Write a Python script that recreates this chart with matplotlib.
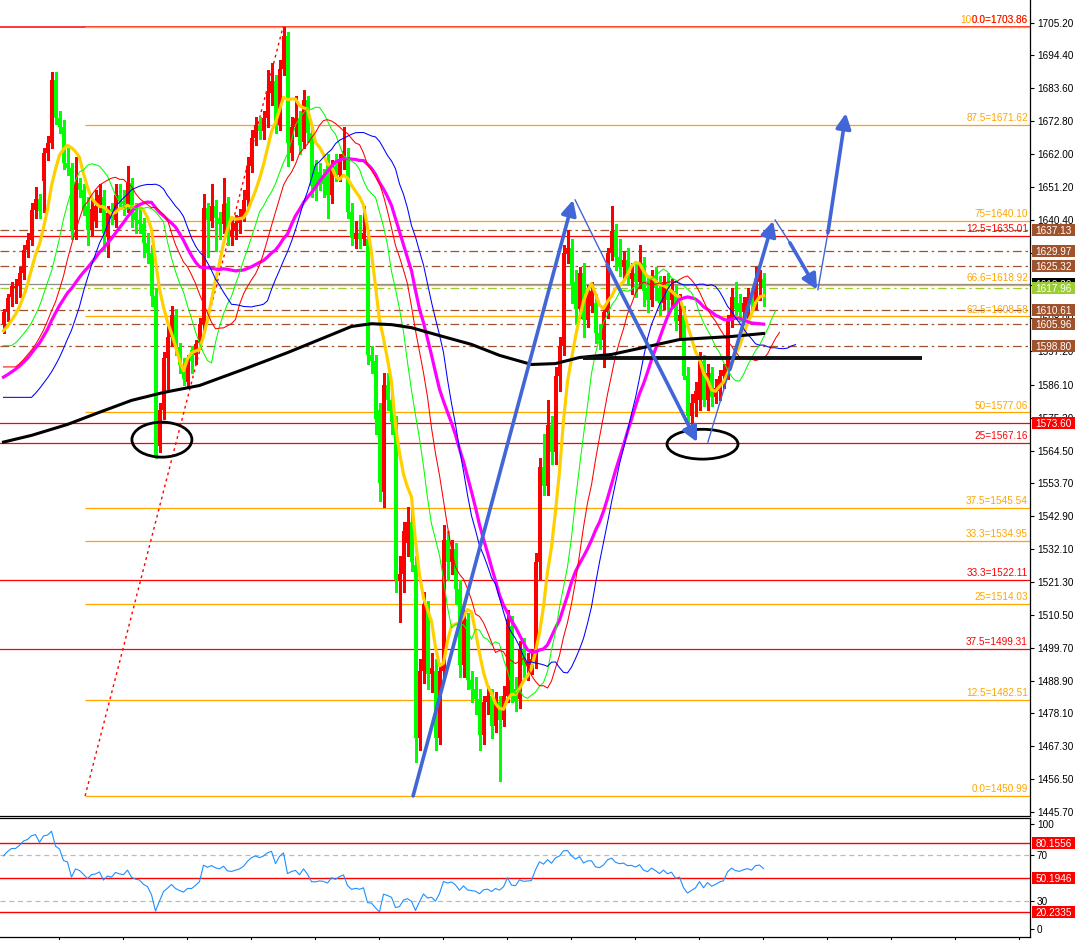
import numpy as np
import pandas as pd
import matplotlib
matplotlib.use("Agg")
import matplotlib.pyplot as plt
from matplotlib.patches import Rectangle, Ellipse, FancyArrowPatch
from matplotlib.transforms import blended_transform_factory as btf

plt.rcParams['font.family'] = ['Liberation Sans', 'DejaVu Sans']

# ---------------- OHLC data ----------------
O = [1606, 1610, 1615, 1617.8, 1618.7, 1623, 1630.5, 1633.8, 1643.6, 1647.2,
     1653, 1662.3, 1665.6, 1686.2, 1673.7, 1671, 1659, 1657.4, 1637, 1652.4,
     1650, 1645, 1637, 1640, 1645, 1648, 1635, 1644, 1640.3, 1648.5,
     1646.5, 1645.5, 1652.4, 1643, 1640.3, 1639, 1632.8, 1629.5, 1615.4, 1566,
     1578, 1595, 1601.7, 1609.2, 1598.4, 1592.5, 1587, 1597.7, 1595.8, 1600,
     1606, 1644.3, 1640, 1645, 1641, 1639, 1646, 1635, 1636.7, 1639.3,
     1641, 1647, 1658, 1667.2, 1671.5, 1669.5, 1673.7, 1682, 1686, 1671.5,
     1690, 1700.7, 1662.3, 1671, 1673.7, 1666, 1679.6, 1668.8, 1658, 1656,
     1655, 1660, 1648.5, 1658, 1655, 1660, 1661, 1643, 1634, 1636,
     1634, 1634, 1596, 1594, 1578, 1551, 1586, 1581, 1574, 1522,
     1524, 1534, 1541, 1527, 1470, 1492, 1512, 1491, 1492, 1470,
     1492, 1535, 1528, 1532, 1519, 1494, 1509, 1489, 1486, 1483,
     1471, 1482, 1484, 1474, 1482, 1476, 1484, 1507, 1486, 1483,
     1499, 1494, 1494, 1495, 1528, 1559, 1553, 1573, 1564, 1589,
     1599, 1629, 1631, 1620, 1611, 1623, 1607.5, 1612, 1613, 1603,
     1601, 1610, 1629.5, 1636.7, 1628, 1625, 1627, 1621, 1623, 1620,
     1626, 1618, 1614, 1622, 1618, 1613, 1620, 1614, 1617, 1607,
     1609, 1589, 1576, 1580, 1581, 1594, 1581, 1590, 1582, 1584,
     1589, 1590, 1607, 1615, 1613, 1610, 1611, 1615, 1613, 1620,
     1621]
H = [1611, 1616, 1620, 1621, 1625, 1632, 1636, 1646, 1651, 1649,
     1664, 1668, 1689, 1689, 1676, 1673, 1664, 1659, 1661, 1654,
     1652, 1648, 1647, 1650, 1652, 1650, 1645, 1646, 1652, 1652,
     1650, 1658, 1654, 1646, 1644, 1641, 1636, 1632, 1618, 1580,
     1597, 1605.6, 1612, 1611, 1600, 1595, 1596, 1599, 1601, 1608,
     1649, 1646, 1652, 1647, 1643, 1654, 1648, 1640, 1642, 1644,
     1650, 1661, 1670, 1674, 1674, 1676, 1689.5, 1692, 1688, 1693,
     1703.86, 1702, 1674, 1681, 1676, 1683, 1681, 1671, 1660, 1659,
     1657, 1662, 1660, 1662, 1662, 1670.8, 1664, 1646, 1640, 1642,
     1645, 1637, 1599, 1596, 1580, 1590, 1590, 1584, 1576, 1530,
     1541, 1546, 1545, 1530, 1496, 1518, 1515, 1498, 1496, 1494,
     1540, 1538, 1535, 1534, 1522, 1512, 1511, 1492, 1490, 1486,
     1484, 1487, 1486, 1485, 1484, 1487, 1512, 1510, 1490, 1502,
     1503, 1498, 1499, 1531, 1562, 1570, 1581, 1576, 1592, 1602,
     1632, 1637, 1634, 1624, 1625, 1626, 1619, 1620, 1616, 1606,
     1612, 1631, 1645, 1639, 1634, 1630, 1631, 1626, 1626, 1632,
     1628, 1622, 1624, 1625, 1622, 1622, 1623, 1621, 1619, 1616,
     1612, 1592, 1583, 1587, 1597, 1596, 1593, 1592, 1588, 1591,
     1593, 1609, 1618, 1620, 1616, 1615, 1618, 1617, 1625, 1624,
     1623]
L = [1603, 1607, 1612, 1613, 1615, 1621, 1628, 1632, 1641, 1641,
     1643, 1660, 1664, 1672, 1669, 1657, 1655, 1634, 1634, 1648,
     1642, 1632, 1635, 1638, 1643, 1630, 1628, 1639, 1638, 1644,
     1642, 1643, 1638, 1636, 1636, 1628, 1626, 1612, 1562, 1564,
     1575, 1584.6, 1599, 1596, 1590, 1586, 1585, 1590, 1593, 1598,
     1604, 1628, 1638, 1630, 1634, 1636, 1632, 1632, 1634, 1636,
     1640, 1645, 1656, 1665, 1667, 1667, 1671, 1678, 1669, 1670,
     1688, 1658, 1660, 1668, 1662, 1664, 1666, 1648, 1647, 1650,
     1648, 1641, 1646, 1653, 1653, 1657, 1641, 1632, 1631, 1631,
     1632, 1593, 1590, 1570, 1548, 1546, 1578, 1570, 1518, 1508,
     1518, 1530, 1525, 1462, 1466, 1488, 1486, 1485, 1466, 1468,
     1490, 1522, 1524, 1514, 1490, 1490, 1486, 1482, 1478, 1466,
     1468, 1478, 1470, 1472, 1456, 1474, 1482, 1482, 1479, 1480,
     1490, 1489, 1491, 1493, 1522, 1550, 1550, 1560, 1560, 1584,
     1596, 1626, 1613, 1606, 1608, 1602, 1605, 1610, 1600, 1598,
     1592, 1608, 1627, 1624, 1622, 1621, 1619, 1616, 1615, 1618,
     1612, 1610, 1612, 1614, 1609, 1611, 1610, 1612, 1604, 1601,
     1588, 1572, 1573, 1576, 1578, 1579, 1578, 1579, 1580, 1581,
     1585, 1588, 1605, 1609, 1607, 1607, 1608, 1611, 1611, 1614,
     1612]
C = [1610, 1614.8, 1618.7, 1618.7, 1623, 1630.5, 1633.8, 1643.6, 1647.2, 1643.3,
     1662.3, 1665.6, 1686.2, 1673.7, 1671, 1659, 1657.4, 1637, 1652.4, 1650,
     1644, 1637, 1644, 1645, 1648.5, 1636, 1642.6, 1641, 1648.5, 1646.5,
     1645.5, 1652.4, 1643, 1640.3, 1639, 1632.8, 1629.5, 1615.4, 1563, 1578,
     1595, 1601.7, 1609.2, 1598.4, 1592.5, 1588, 1594.5, 1594.1, 1599.4, 1606,
     1644.3, 1640.3, 1645, 1641, 1639, 1645.5, 1637.7, 1636.7, 1639.3, 1641.7,
     1647, 1658, 1667.2, 1671.5, 1669.5, 1673.7, 1682, 1686, 1671.5, 1690,
     1700.7, 1665.6, 1671, 1673.7, 1665, 1679.6, 1668.8, 1651.5, 1651, 1653,
     1652, 1648.5, 1658, 1655, 1660, 1663, 1643, 1634.4, 1636, 1634,
     1636, 1596, 1594, 1575, 1554, 1586, 1581, 1574, 1522, 1524,
     1538, 1541, 1528, 1470, 1492, 1514, 1491, 1493, 1470, 1492,
     1535, 1528, 1532, 1519, 1494, 1509, 1489, 1486, 1483, 1471,
     1482, 1484, 1474, 1482, 1476, 1484, 1509, 1484, 1482, 1499,
     1494, 1495, 1496, 1528, 1559, 1553, 1573, 1564, 1589, 1599,
     1629.5, 1631, 1619, 1611, 1623, 1607.5, 1617, 1617, 1603, 1601,
     1610, 1629.5, 1636.7, 1628, 1625, 1627, 1622, 1623, 1620, 1626,
     1617, 1614, 1622, 1618, 1613, 1620, 1614, 1617, 1607, 1609,
     1589, 1576, 1580, 1584, 1594, 1581, 1590, 1582, 1585, 1589,
     1591, 1607, 1615, 1611, 1610, 1613, 1615, 1613, 1621, 1622,
     1618]

# moving averages: (period, shift, value at left edge, colour, width)
ma_specs = [
    (8, 0, 1603, '#FFD000', 2.3),
    (12, 3, 1599, '#00FF00', 0.75),
    (17, 4, 1592, '#FF0000', 0.75),
    (34, 0, 1588, '#FF00FF', 2.3),
    (21, 8, 1582, '#0000FF', 0.75),
]
# long moving average (black)
long_ma_bar = [0, 7, 16, 24, 32, 40, 49, 60, 71, 82, 87, 92, 97, 102, 109, 117,
               124, 132, 138, 144, 152, 159, 169, 182, 190]
long_ma_val = [1567.3, 1569.5, 1573.1, 1577.1, 1581.0, 1583.6, 1585.9, 1591.2, 1596.7,
               1602.6, 1605.3, 1606.2, 1605.9, 1604.9, 1602.3, 1599.4, 1595.8, 1592.8,
               1593.1, 1595.1, 1596.1, 1598.1, 1601.0, 1602.0, 1603.0]

# Fibonacci levels
fib_orange_levels = [1703.86, 1671.62, 1640.10, 1618.92, 1608.58, 1577.06,
                     1545.54, 1534.95, 1514.03, 1482.51, 1450.99]
fib_orange_labels = ['100.0=1703.86', '87.5=1671.62', '75=1640.10', '66.6=1618.92',
                     '62.5=1608.58', '50=1577.06', '37.5=1545.54', '33.3=1534.95',
                     '25=1514.03', '12.5=1482.51', '0.0=1450.99']
fib_anchor_bars = (20.4, 69.9)
fib_red_levels = [1703.86, 1635.01, 1567.16, 1522.11, 1499.31]
fib_red_labels = ['0.0=1703.86', '12.5=1635.01', '25=1567.16', '33.3=1522.11', '37.5=1499.31']
brown_levels = [1637.13, 1629.97, 1625.32, 1610.61, 1605.96, 1598.80]
brown_labels = ['1637.13', '1629.97', '1625.32', '1610.61', '1605.96', '1598.80']
support_level = 1573.60
bid_level = 1619.30
ask_level = 1617.96
hline_black = (144.9, 229.6, 1594.8)

price_ticks = [1705.20, 1694.40, 1683.60, 1672.80, 1662.00, 1651.20, 1640.40, 1629.60,
               1618.80, 1608.00, 1597.20, 1586.10, 1575.30, 1564.50, 1553.70, 1542.90,
               1532.10, 1521.30, 1510.50, 1499.70, 1488.90, 1478.10, 1467.30, 1456.50,
               1445.70]

# analyst drawings: (start, start of thick part, end) in (bar, price)
arrows = [
    ((102.4, 1451.0), (102.4, 1451.0), (142.4, 1646.9)),
    ((142.9, 1646.9), (150.9, 1625.6), (173.4, 1567.3)),
    ((176.1, 1567.3), (181.6, 1591.2), (192.4, 1640.0)),
    ((192.9, 1640.3), (196.6, 1632.8), (203.4, 1617.4)),
    ((203.6, 1617.4), (206.1, 1636.1), (210.6, 1675.4)),
]
ellipses = [((39.6, 1568.1), 15.0, 11.5), ((174.75, 1566.6), 17.75, 9.8)]

# RSI
rsi_period = 14
rsi_seed = (2.0, 0.9)
rsi_levels = [80.1556, 50.1946, 20.2335]

# ---------------- figure ----------------
o = np.array(O, float); c = np.array(C, float)
h = np.maximum(np.array(H, float), np.maximum(o, c))
l = np.minimum(np.array(L, float), np.minimum(o, c))
n = len(c)
x = np.arange(n)

fig = plt.figure(figsize=(10.78, 9.40), dpi=100)
fig.patch.set_facecolor('white')
ax = fig.add_axes([0, 124 / 940, 1030 / 1078, 816 / 940])
ax2 = fig.add_axes([0, 3 / 940, 1030 / 1078, 119 / 940])
XL = (-0.875, 256.625)
ax.set_xlim(*XL); ax2.set_xlim(*XL)
ax.set_ylim(1444.4, 1712.6)
ax2.set_ylim(-0.94, 101.6)
PXU = 816 / (1712.6 - 1444.4)   # pixels per price unit

ORANGE = '#FFA500'; RED = '#FF0000'; BROWN = '#A0522D'; BLUE = '#4166D8'
tr = btf(ax.transAxes, ax.transData)
tr2 = btf(ax2.transAxes, ax2.transData)
FS = 7.2

# horizontal lines
for v in fib_red_levels:
    ax.axhline(v, color=RED, lw=1.1 if v == fib_red_levels[0] else 0.9, zorder=1)
for v in fib_orange_levels:
    ax.hlines(v, fib_anchor_bars[0], XL[1], color=ORANGE, lw=0.9, zorder=1.1)
for v in brown_levels:
    ax.axhline(v, color=BROWN, lw=0.9, ls=(0, (7, 3, 2, 3)), zorder=1)
ax.axhline(support_level, color=RED, lw=0.9, zorder=1)
ax.axhline(bid_level, color='#8C8C8C', lw=0.9, zorder=1)
ax.axhline(ask_level, color='#9ACD32', lw=0.9, ls=(0, (7, 3, 2, 3)), zorder=1)
ax.plot(fib_anchor_bars, [fib_orange_levels[-1], fib_orange_levels[0]], color=RED,
        lw=1.0, ls=(0, (2, 2.5)), zorder=1.2)

# fib labels
for v, t in zip(fib_orange_levels, fib_orange_labels):
    ax.text(0.998, v + 0.6, t, transform=tr, color=ORANGE, fontsize=FS, ha='right', va='bottom', zorder=6)
for v, t in zip(fib_red_levels, fib_red_labels):
    ax.text(0.998, v + 0.6, t, transform=tr, color=RED, fontsize=FS, ha='right', va='bottom', zorder=6)

# candles
cols = np.where(c >= o, '#FF0000', '#00FF00')
ax.vlines(x, l, h, colors=cols, lw=0.8, zorder=3, antialiased=False)
bot = np.minimum(o, c)
hgt = np.maximum(np.abs(c - o), 0.45)
ax.bar(x, hgt, bottom=bot, width=0.64, color=cols, linewidth=0, zorder=3.1, antialiased=False)

# moving averages
for period, shift, seed, col, lw in ma_specs:
    pad = period + shift
    padded = pd.Series(np.concatenate([np.full(pad, seed), c]))
    sma = padded.rolling(period).mean().values
    xs = np.arange(0, n + shift)
    vals = sma[pad + xs - shift]
    ax.plot(xs, vals, color=col, lw=lw, zorder=4 if lw > 1 else 4.2)
ax.plot(long_ma_bar, long_ma_val, color='black', lw=2.2, zorder=4.5)
ax.hlines(hline_black[2], hline_black[0], hline_black[1], color='#111111', lw=2.8, zorder=4.6)

# ellipses
for (cx, cy), w, hh in ellipses:
    ax.add_patch(Ellipse((cx, cy), w, hh, fill=False, ec='black', lw=2.0, zorder=7))

# arrows
for p0, pm, p1 in arrows:
    if pm != p0:
        ax.plot([p0[0], pm[0]], [p0[1], pm[1]], color=BLUE, lw=1.0, zorder=8)
    ax.add_patch(FancyArrowPatch(pm, p1, arrowstyle='-|>,head_length=0.6,head_width=0.3',
                                 mutation_scale=15, lw=2.6, color=BLUE, zorder=8,
                                 shrinkA=0, shrinkB=0))

# axes styling
for a in (ax, ax2):
    a.set_facecolor('white')
    a.spines['left'].set_visible(False)
    a.spines['right'].set_linewidth(0.9)
    a.spines['bottom'].set_linewidth(0.9)
ax.spines['top'].set_visible(False)
ax2.spines['top'].set_linewidth(0.9)

ax.yaxis.tick_right()
ax.set_yticks(price_ticks)
ax.set_yticklabels(['%.2f' % t for t in price_ticks])
ax.tick_params(axis='y', direction='out', length=3, width=0.8, pad=2, labelsize=FS)
ax.set_xticks([])

def price_box(a, trans, y, txt, bg, hu, z=20):
    a.add_patch(Rectangle((1.0019, y - hu / 2), 0.0417, hu, transform=trans, facecolor=bg,
                          edgecolor='none', clip_on=False, zorder=z))
    a.text(1.0228, y, txt, transform=trans, color='white', fontsize=FS, ha='center',
           va='center_baseline', zorder=z + 0.5, clip_on=False)

BH = 12 / PXU
# bid box sits behind the ask box, only its top edge shows
price_box(ax, tr, ask_level + 4 / PXU, '%.2f' % bid_level, 'black', BH, z=15)
for v, t in zip(brown_levels, brown_labels):
    price_box(ax, tr, v, t, BROWN, BH)
price_box(ax, tr, ask_level, '%.2f' % ask_level, '#9ACD32', BH, z=22)
price_box(ax, tr, support_level, '%.2f' % support_level, RED, BH)

# ---------------- RSI ----------------
d = np.diff(c, prepend=c[0])
ag, al = rsi_seed
rsi = []
for k in range(n):
    g = max(d[k], 0.0); ls_ = max(-d[k], 0.0)
    ag = (ag * (rsi_period - 1) + g) / rsi_period
    al = (al * (rsi_period - 1) + ls_) / rsi_period
    rsi.append(100 - 100 / (1 + ag / al))
ax2.plot(x, rsi, color='#1E90FF', lw=0.8, zorder=5)
for v in rsi_levels:
    ax2.axhline(v, color=RED, lw=1.0, zorder=2)
for v in (70, 30):
    ax2.axhline(v, color='#BBBBBB', lw=0.9, ls=(0, (4, 3)), zorder=1)
ax2.yaxis.tick_right()
ax2.set_yticks([96.6, 70, 30, 5.9])
ax2.set_yticklabels(['100', '70', '30', '0'])
ax2.tick_params(axis='y', direction='out', length=3, width=0.8, pad=2, labelsize=FS)
ax2.set_xticks([13.875 + 16 * k for k in range(16)])
ax2.set_xticklabels([])
ax2.tick_params(axis='x', direction='out', length=3, width=0.8)
for v in rsi_levels:
    price_box(ax2, tr2, v, '%.4f' % v, RED, 12 / 1.168)

fig.savefig('out.png', dpi=100, facecolor='white')
